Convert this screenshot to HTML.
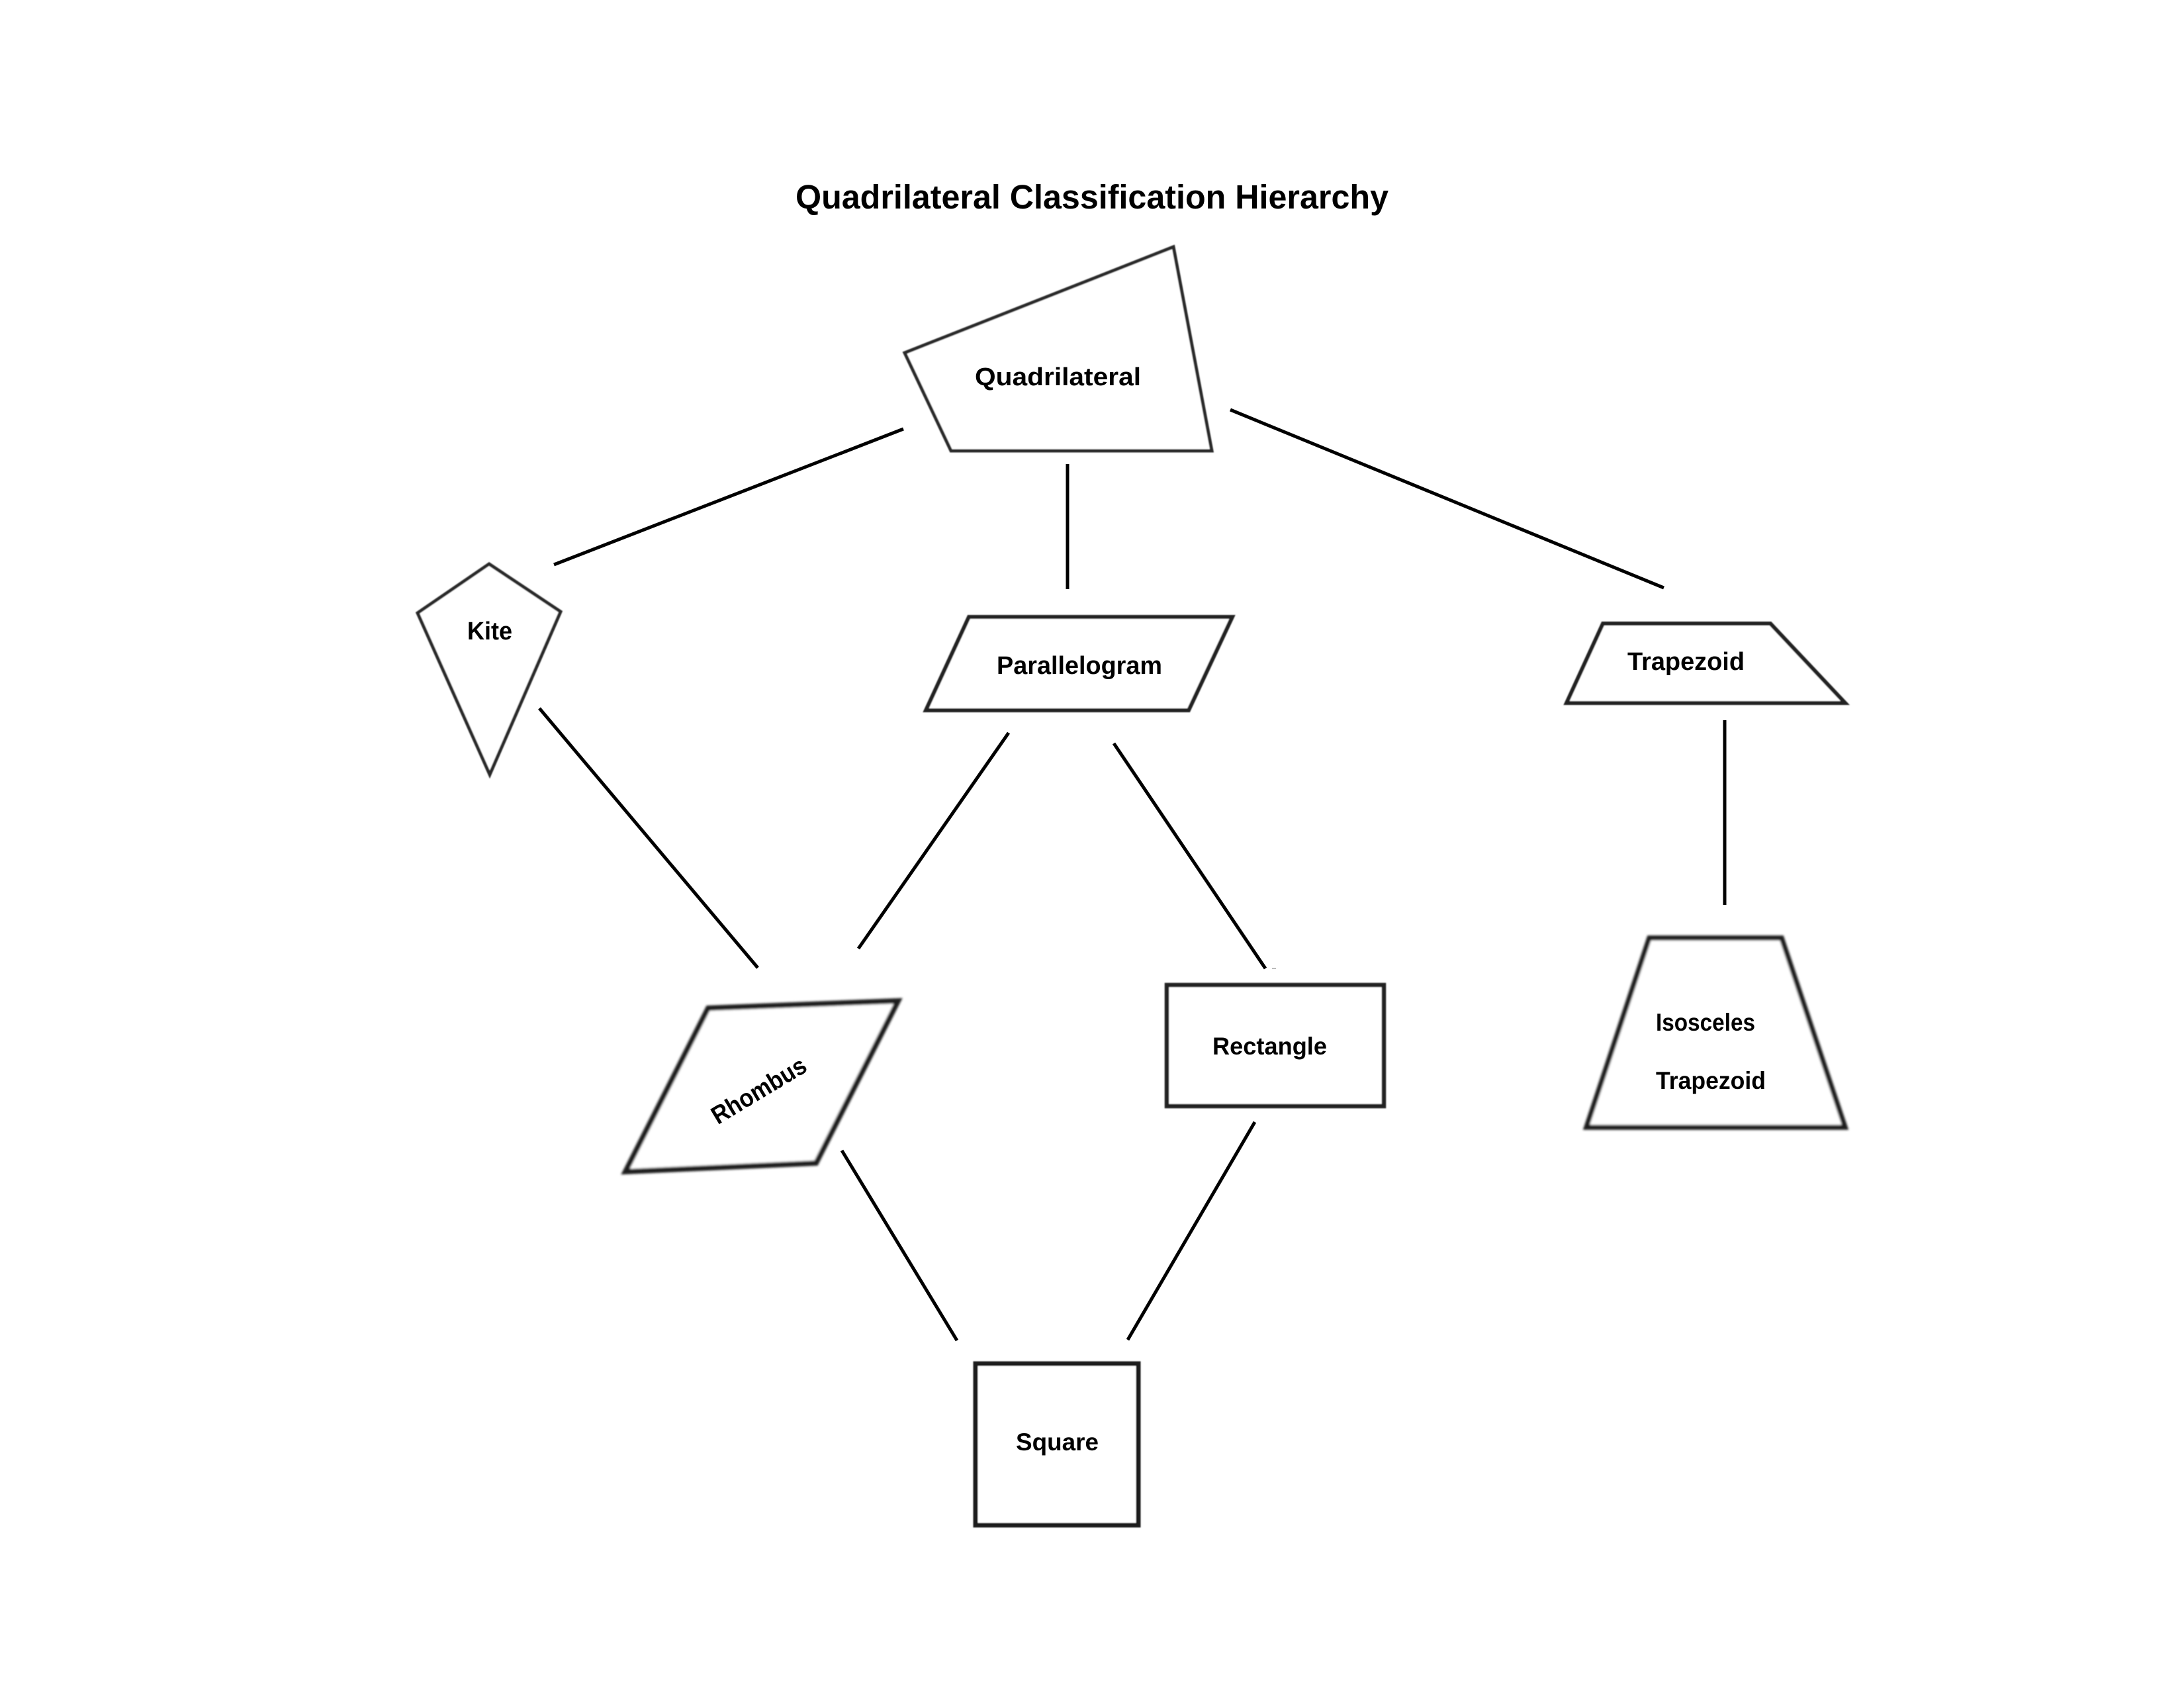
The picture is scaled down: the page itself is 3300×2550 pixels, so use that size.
<!DOCTYPE html>
<html>
<head>
<meta charset="utf-8">
<style>
  html, body { margin: 0; padding: 0; background: #ffffff; }
  body { width: 3300px; height: 2550px; overflow: hidden; }
  svg { display: block; }
  text { font-family: "Liberation Sans", "DejaVu Sans", sans-serif; font-weight: bold; fill: #000; }
</style>
</head>
<body>
<svg width="3300" height="2550" viewBox="0 0 3300 2550" xmlns="http://www.w3.org/2000/svg">
  <defs>
    <filter id="soft" x="-5%" y="-5%" width="110%" height="110%">
      <feGaussianBlur stdDeviation="0.9"/>
    </filter>
    <filter id="softer" x="-5%" y="-5%" width="110%" height="110%">
      <feGaussianBlur stdDeviation="1.6"/>
    </filter>
  </defs>
  <rect width="3300" height="2550" fill="#ffffff"/>

  <!-- Title -->
  <text x="1202" y="315" font-size="51" textLength="896" lengthAdjust="spacingAndGlyphs">Quadrilateral Classification Hierarchy</text>

  <!-- Connectors -->
  <g stroke="#000" stroke-width="5" fill="none" stroke-linecap="butt">
    <line x1="1365" y1="648" x2="837" y2="853"/>
    <line x1="1613" y1="701" x2="1613" y2="890"/>
    <line x1="1859" y1="619" x2="2514" y2="888"/>
    <line x1="815" y1="1070" x2="1145" y2="1462"/>
    <line x1="1524" y1="1107" x2="1297" y2="1433"/>
    <line x1="1683" y1="1123" x2="1912" y2="1463"/>
    <line x1="2606" y1="1088" x2="2606" y2="1367"/>
    <line x1="1272" y1="1738" x2="1446" y2="2025"/>
    <line x1="1896" y1="1695" x2="1704" y2="2024"/>
  </g>
  <rect x="1922" y="1462" width="6" height="2" fill="#bbb"/>

  <!-- Shapes -->
  <g fill="#ffffff" stroke-linejoin="miter">
    <!-- Quadrilateral -->
    <polygon points="1773,373 1367,533 1437,681 1831,681" stroke="#2a2a2a" stroke-width="5" filter="url(#soft)"/>
    <line x1="1437" y1="683" x2="1831" y2="683" stroke="#444" stroke-width="5" filter="url(#soft)"/>
    <!-- Kite -->
    <polygon points="739,852 847,924 740,1170 631,926" stroke="#2a2a2a" stroke-width="5" filter="url(#soft)"/>
    <!-- Parallelogram -->
    <polygon points="1464,932 1862,932 1796,1073 1399,1073" stroke="#222" stroke-width="6" filter="url(#soft)"/>
    <!-- Trapezoid -->
    <polygon points="2422,942 2675,942 2788,1062 2367,1062" stroke="#222" stroke-width="6" filter="url(#soft)"/>
    <!-- Isosceles Trapezoid -->
    <polygon points="2492,1417 2692,1417 2788,1703 2397,1703" stroke="#1a1a1a" stroke-width="7.5" filter="url(#softer)"/>
    <!-- Rhombus -->
    <polygon points="1070,1523 1357,1512 1233,1757 945,1770" stroke="#1a1a1a" stroke-width="8" filter="url(#softer)"/>
    <!-- Rectangle -->
    <rect x="1763" y="1488" width="328" height="183" stroke="#222" stroke-width="6.5" filter="url(#soft)"/>
    <!-- Square -->
    <rect x="1474" y="2060" width="246" height="244" stroke="#1a1a1a" stroke-width="7" filter="url(#soft)"/>
  </g>

  <!-- Labels -->
  <text x="1473" y="582" font-size="38" textLength="251" lengthAdjust="spacingAndGlyphs">Quadrilateral</text>
  <text x="706" y="966" font-size="38" textLength="68" lengthAdjust="spacingAndGlyphs">Kite</text>
  <text x="1506" y="1018" font-size="38" textLength="250" lengthAdjust="spacingAndGlyphs">Parallelogram</text>
  <text x="2459" y="1012" font-size="38" textLength="177" lengthAdjust="spacingAndGlyphs">Trapezoid</text>
  <text x="2502" y="1557" font-size="37" textLength="150" lengthAdjust="spacingAndGlyphs">Isosceles</text>
  <text x="2502" y="1645" font-size="37" textLength="166" lengthAdjust="spacingAndGlyphs">Trapezoid</text>
  <text x="1832" y="1593" font-size="37" textLength="173" lengthAdjust="spacingAndGlyphs">Rectangle</text>
  <text x="1535" y="2191" font-size="37" textLength="125" lengthAdjust="spacingAndGlyphs">Square</text>
  <g transform="translate(1147,1648) rotate(-31)">
    <text x="-80" y="12" font-size="38" textLength="160" lengthAdjust="spacingAndGlyphs">Rhombus</text>
  </g>
</svg>
</body>
</html>
